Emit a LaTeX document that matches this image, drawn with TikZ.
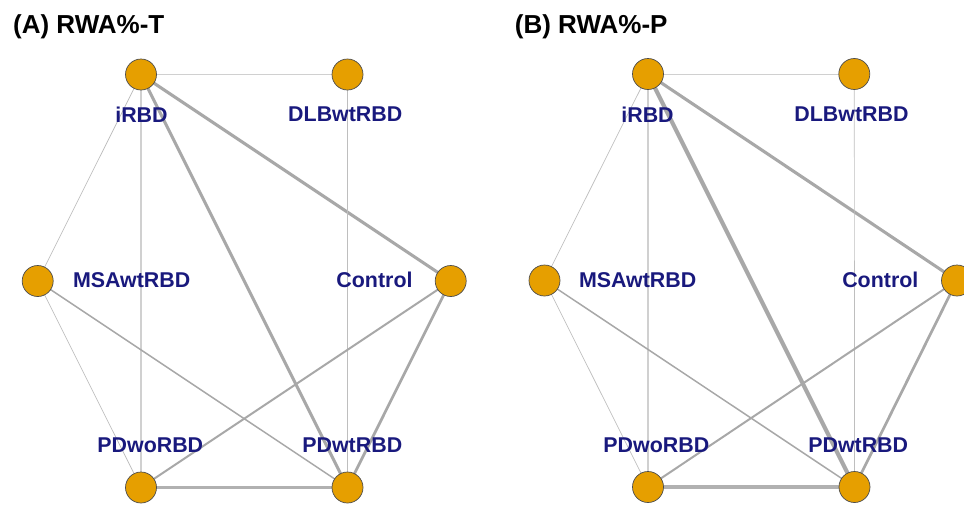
\documentclass[tikz,border=0pt]{standalone}
\usepackage{fontspec}
\setmainfont{Liberation Sans}
\usetikzlibrary{backgrounds}
\definecolor{nodeorange}{RGB}{230,159,0}
\definecolor{labelblue}{RGB}{25,25,125}
\definecolor{edgedark}{RGB}{168,168,168}
\definecolor{edgelight}{RGB}{208,208,208}
\definecolor{edgethin}{RGB}{190,190,190}
\tikzset{
  vert/.style={circle, fill=nodeorange, draw=black!70, line width=0.7pt, minimum size=31pt, inner sep=0pt},
  vlabel/.style={anchor=base, text=labelblue, font=\fontsize{21.4}{24}\selectfont\bfseries, inner sep=0pt},
  ptitle/.style={anchor=base west, text=black, font=\fontsize{26}{30}\selectfont\bfseries, inner sep=0pt},
  ehair/.style={draw=edgethin, line width=0.7pt},
  elight/.style={draw=edgelight, line width=1.4pt},
  emid/.style={draw=edgedark, line width=1.5pt},
  emid2/.style={draw=edgedark, line width=2pt},
  ethick/.style={draw=edgedark, line width=2.7pt},
  ethicker/.style={draw=edgedark, line width=3.1pt},
  ethickest/.style={draw=edgedark, line width=4.2pt},
}
\begin{document}
\begin{tikzpicture}[x=1pt,y=-1pt]
\useasboundingbox (0,0) rectangle (964,504);
% ---------- Panel A ----------
\node[ptitle] (tA) at (13,33.5) {(A) RWA\%-T};
\node[vert] (aI) at (141,74.5) {};
\node[vert] (aD) at (347.5,74.5) {};
\node[vert] (aM) at (37.7,281) {};
\node[vert] (aC) at (450.7,281) {};
\node[vert] (aPo) at (141,487.5) {};
\node[vert] (aPw) at (347.5,487.5) {};
\node[vlabel] (laI) at (141.5,122) {iRBD};
\node[vlabel] (laD) at (345.3,121) {DLBwtRBD};
\node[vlabel] (laM) at (131.7,287.5) {MSAwtRBD};
\node[vlabel] (laC) at (374.5,287.5) {Control};
\node[vlabel] (laPo) at (150.3,452.3) {PDwoRBD};
\node[vlabel] (laPw) at (352.3,452.3) {PDwtRBD};
\begin{scope}[on background layer]
\draw[elight, line width=1pt] (aI.center) -- (aD.center);
\draw[ehair] (aI.center) -- (aM.center);
\draw[elight] (aI.center) -- (aPo.center);
\draw[ethicker] (aI.center) -- (aPw.center);
\draw[ethicker] (aI.center) -- (aC.center);
\draw[ehair] (aD.center) -- (aPw.center);
\draw[ehair] (aM.center) -- (aPo.center);
\draw[emid] (aM.center) -- (aPw.center);
\draw[emid2] (aC.center) -- (aPo.center);
\draw[ethick] (aC.center) -- (aPw.center);
\draw[ethicker, draw=edgedark!90] (aPo.center) -- (aPw.center);
\end{scope}
% ---------- Panel B ----------
\node[ptitle] (tB) at (514.7,33.5) {(B) RWA\%-P};
\node[vert] (bI) at (648,74) {};
\node[vert] (bD) at (854.3,74) {};
\node[vert] (bM) at (544.5,280.5) {};
\node[vert] (bC) at (957,280.5) {};
\node[vert] (bPo) at (648,487) {};
\node[vert] (bPw) at (854.5,487) {};
\node[vlabel] (lbI) at (647.5,122) {iRBD};
\node[vlabel] (lbD) at (851.5,121) {DLBwtRBD};
\node[vlabel] (lbM) at (637.7,287.5) {MSAwtRBD};
\node[vlabel] (lbC) at (880.3,287.5) {Control};
\node[vlabel] (lbPo) at (656.3,452.3) {PDwoRBD};
\node[vlabel] (lbPw) at (858.2,452.3) {PDwtRBD};
\begin{scope}[on background layer]
\draw[elight, line width=1pt] (bI.center) -- (bD.center);
\draw[ehair] (bI.center) -- (bM.center);
\draw[elight] (bI.center) -- (bPo.center);
\draw[ethickest] (bI.center) -- (bPw.center);
\draw[ethicker] (bI.center) -- (bC.center);
\draw[ehair] (bD.center) -- (bPw.center);
\draw[ehair] (bM.center) -- (bPo.center);
\draw[emid] (bM.center) -- (bPw.center);
\draw[emid2] (bC.center) -- (bPo.center);
\draw[ethick] (bC.center) -- (bPw.center);
\draw[ethicker, draw=edgedark!90] (bPo.center) -- (bPw.center);
\end{scope}
\end{tikzpicture}
\end{document}
